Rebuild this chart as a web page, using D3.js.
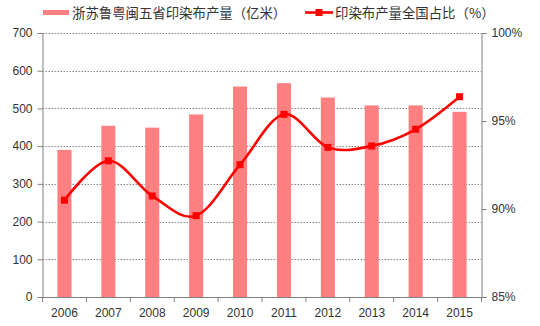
<!DOCTYPE html>
<html>
<head>
<meta charset="utf-8">
<script src="https://cdn.jsdelivr.net/npm/d3@7/dist/d3.min.js"></script>
<style>
  html, body { margin: 0; padding: 0; background: #fff; }
  svg { display: block; }
  text { font-family: "Liberation Sans", Arial, sans-serif; fill: #333; }
  .cjk { font-family: "Noto Sans CJK SC", "Noto Sans", sans-serif; }
</style>
</head>
<body>
<svg id="chart" width="540" height="326"></svg>
<script>
// Years on the category axis
const years = ["2006", "2007", "2008", "2009", "2010", "2011", "2012", "2013", "2014", "2015"];
// Printed-cloth output of Zhejiang, Jiangsu, Shandong, Guangdong, Fujian (100 million metres)
const output = [390, 454, 449, 484, 558, 567, 529, 508, 508, 491];
// Share of national printed-cloth output (%)
const share = [90.5, 92.74, 90.74, 89.62, 92.52, 95.38, 93.5, 93.58, 94.53, 96.38];
// Tick values
const leftTicks = [0, 100, 200, 300, 400, 500, 600, 700];
const rightTicks = [85, 90, 95, 100];
// Legend labels
const barLabel = "浙苏鲁粤闽五省印染布产量（亿米）";
const lineLabel = "印染布产量全国占比（%）";

const svg = d3.select("#chart");
const plotLeft = 42.5, plotRight = 481.5, plotTop = 33, plotBottom = 297;

const x = d3.scaleBand().domain(years).range([plotLeft, plotRight]).paddingInner(0.68).paddingOuter(0.34);
const xPoint = d3.scaleBand().domain(years).range([plotLeft, plotRight]);
const yL = d3.scaleLinear().domain([0, 700]).range([plotBottom, plotTop]);
const yR = d3.scaleLinear().domain([85, 100]).range([plotBottom, plotTop]);

// dotted gridlines
svg.append("g").selectAll("line").data(leftTicks.filter(d => d > 0)).join("line")
  .attr("x1", plotLeft).attr("x2", plotRight)
  .attr("y1", d => Math.round(yL(d)) + 0.5).attr("y2", d => Math.round(yL(d)) + 0.5)
  .attr("stroke", "#8a8a8a").attr("stroke-width", 1).attr("stroke-dasharray", "1.5,1.5");

// bars
svg.append("g").selectAll("rect").data(years).join("rect")
  .attr("x", d => x(d)).attr("width", x.bandwidth())
  .attr("y", (d, i) => yL(output[i])).attr("height", (d, i) => yL(0) - yL(output[i]))
  .attr("fill", "#ff8080");

// left axis
const axL = svg.append("g").attr("transform", `translate(${plotLeft},0)`)
  .call(d3.axisLeft(yL).tickValues(leftTicks).tickSize(5).tickPadding(5));
// right axis
const axR = svg.append("g").attr("transform", `translate(${plotRight},0)`)
  .call(d3.axisRight(yR).tickValues(rightTicks).tickSize(5).tickPadding(5).tickFormat(d => d + "%"));
// bottom axis with ticks between categories
const axB = svg.append("g").attr("transform", `translate(0,${plotBottom})`)
  .call(d3.axisBottom(xPoint).tickSize(0).tickPadding(11));
axB.selectAll(".tickmark").data(d3.range(years.length + 1)).join("line")
  .attr("class", "tickmark")
  .attr("x1", i => plotLeft + i * xPoint.step()).attr("x2", i => plotLeft + i * xPoint.step())
  .attr("y1", 0).attr("y2", 5).attr("stroke", "#808080");

[axL, axR, axB].forEach(g => {
  g.select(".domain").attr("stroke", "#808080");
  g.selectAll(".tick line").attr("stroke", "#808080");
  g.selectAll("text").attr("font-size", 12).attr("fill", "#333")
    .attr("font-family", "'Liberation Sans', Arial, sans-serif");
});

// share line
const cx = (d, i) => xPoint(years[i]) + xPoint.bandwidth() / 2;
const line = d3.line().x(cx).y(d => yR(d)).curve(d3.curveCatmullRom.alpha(0));
svg.append("path").datum(share).attr("d", line)
  .attr("fill", "none").attr("stroke", "#ff0000").attr("stroke-width", 2.6);
svg.append("g").selectAll("rect").data(share).join("rect")
  .attr("x", (d, i) => cx(d, i) - 3.5).attr("y", d => yR(d) - 3.5)
  .attr("width", 7).attr("height", 7).attr("fill", "#ff0000");

// legend
const lg = svg.append("g");
lg.append("rect").attr("x", 43).attr("y", 10).attr("width", 26).attr("height", 5).attr("fill", "#ff8080");
lg.append("text").attr("class", "cjk").attr("x", 72).attr("y", 17.5)
  .attr("font-size", 13.4).attr("fill", "#404040").text(barLabel);
lg.append("line").attr("x1", 305).attr("x2", 333).attr("y1", 12.5).attr("y2", 12.5)
  .attr("stroke", "#ff0000").attr("stroke-width", 2.6);
lg.append("rect").attr("x", 315.5).attr("y", 9).attr("width", 7).attr("height", 7).attr("fill", "#ff0000");
lg.append("text").attr("class", "cjk").attr("x", 335).attr("y", 17.5)
  .attr("font-size", 13.4).attr("fill", "#404040").text(lineLabel);
</script>
</body>
</html>
